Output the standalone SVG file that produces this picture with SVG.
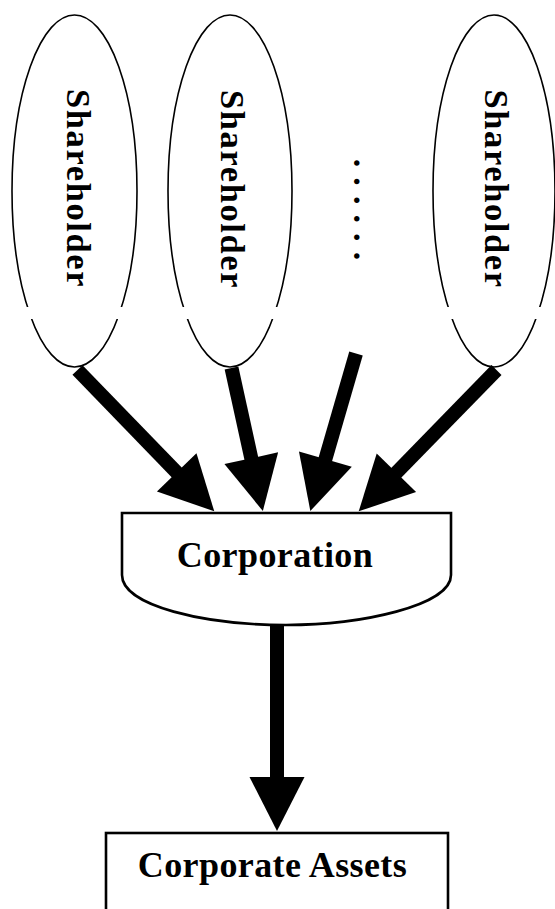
<svg xmlns="http://www.w3.org/2000/svg" width="555" height="909" viewBox="0 0 555 909">
  <style>
    .ell { fill: #fff; stroke: #000; stroke-width: 1.6; }
    .box { fill: #fff; stroke: #000; stroke-width: 2.6; }
    .lbl { font-family: "Liberation Serif", "Times New Roman", serif; font-weight: bold; fill: #000; }
    .sh { font-size: 34.5px; letter-spacing: 1.6px; }
    .big { font-size: 36px; letter-spacing: 0.4px; text-anchor: middle; }
    .dots { font-size: 34px; letter-spacing: 10.1px; }
    .conn { stroke: #000; stroke-width: 14; fill: none; marker-end: url(#ah); }
  </style>
  <defs>
    <marker id="ah" markerUnits="userSpaceOnUse" markerWidth="60" markerHeight="60" viewBox="0 -30 60 60" refX="1" refY="0" orient="auto" overflow="visible">
      <path d="M0,-27.5 L54,0 L0,27.5 Z" fill="#000"/>
    </marker>
    <clipPath id="gap" clipPathUnits="userSpaceOnUse">
      <rect x="0" y="0" width="555" height="307"/>
      <rect x="0" y="319" width="555" height="600"/>
    </clipPath>
  </defs>
  <rect width="555" height="909" fill="#fff"/>

  <g id="shareholder1">
    <ellipse class="ell" cx="74.5" cy="191" rx="62.5" ry="176" clip-path="url(#gap)"/>
    <text class="lbl sh" transform="translate(67,89) rotate(90)">Shareholder</text>
  </g>
  <g id="shareholder2">
    <ellipse class="ell" cx="230" cy="191" rx="62" ry="176" clip-path="url(#gap)"/>
    <text class="lbl sh" transform="translate(220.5,90) rotate(90)">Shareholder</text>
  </g>
  <g id="more">
    <text class="lbl dots" transform="translate(354.3,158.7) rotate(90)">......</text>
  </g>
  <g id="shareholder4">
    <ellipse class="ell" cx="494" cy="191" rx="61" ry="176" clip-path="url(#gap)"/>
    <text class="lbl sh" transform="translate(485,89.5) rotate(90)">Shareholder</text>
  </g>

  <g id="corporation">
    <path class="box" d="M122,513 H451 V575 C451,606 360,625 286,625 C205,625 122,606 122,575 Z"/>
    <text class="lbl big" x="275" y="567">Corporation</text>
  </g>

  <g id="assets">
    <rect class="box" x="106" y="833" width="342" height="100"/>
    <text class="lbl big" x="272.5" y="877">Corporate Assets</text>
  </g>

  <g id="connectors">
    <line class="conn" x1="77.5" y1="370" x2="177.4" y2="473.2"/>
    <line class="conn" x1="231.5" y1="368" x2="251.5" y2="459.2"/>
    <line class="conn" x1="356" y1="353.5" x2="325.1" y2="460.1"/>
    <line class="conn" x1="496.5" y1="370" x2="395.7" y2="473.4"/>
    <line class="conn" x1="277" y1="625" x2="277" y2="778"/>
  </g>
</svg>
